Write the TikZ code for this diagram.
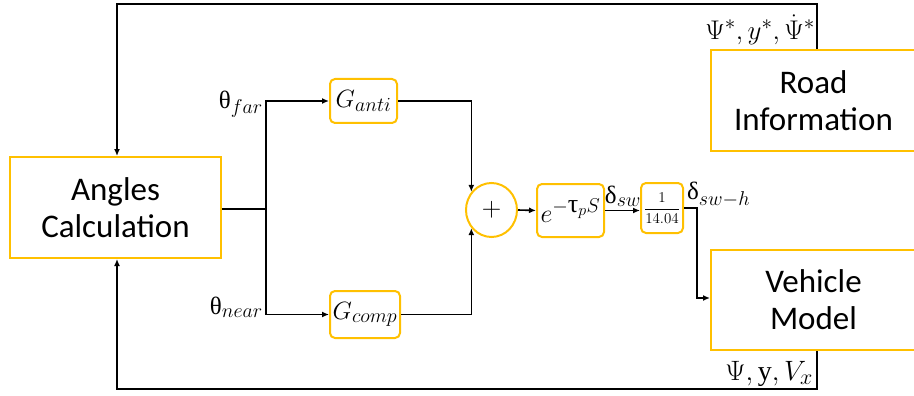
\RequirePackage{fix-cm}
\documentclass[tikz,border=0pt]{standalone}
\usepackage{fontspec}
\setmainfont{Carlito}
\newfontfamily\gr{Liberation Serif}
\DeclareMathSizes{25}{25}{20}{16}
\DeclareMathSizes{26}{26}{20}{16}
\DeclareMathSizes{27}{27}{21}{16}
\DeclareMathSizes{28}{28}{22}{17}
\usetikzlibrary{arrows.meta,shapes.geometric}
\definecolor{ybox}{HTML}{FFC000}
\tikzset{
  bigbox/.style={draw=ybox,line width=2pt,align=center,font=\fontsize{33}{37}\selectfont,inner sep=0pt},
  smallbox/.style={draw=ybox,line width=2pt,rounded corners=5pt,inner sep=0pt,font=\fontsize{25}{28}\selectfont},
  wire/.style={line width=1.6pt},
  arr/.style={wire,-{Latex[length=7pt,width=6pt]}},
  lab/.style={font=\fontsize{25}{28}\selectfont,inner sep=0pt}
}
\begin{document}
\begin{tikzpicture}[x=1pt,y=-1pt]
\useasboundingbox (0,0) rectangle (914,396);
\node[bigbox,minimum width=211pt,minimum height=101pt] (Angles) at (115.5,207.5) {Angles\\Calculation};
\node[bigbox,minimum width=205pt,minimum height=101pt] (Road) at (813.5,100.5) {Road\\Information};
\node[bigbox,minimum width=205pt,minimum height=100pt] (Vehicle) at (813.5,300) {Vehicle\\Model};
\node[smallbox,minimum width=67pt,minimum height=44pt] (Ganti) at (363.5,101) {$G_{anti}$};
\node[smallbox,minimum width=70pt,minimum height=47pt] (Gcomp) at (365,314.5) {$G_{comp}$};
\node[ellipse,draw=ybox,line width=2pt,minimum width=51pt,minimum height=54pt,inner sep=0pt,font=\fontsize{27}{30}\selectfont] (sum) at (491.5,210) {$\mathbf{+}$};
\node[smallbox,minimum width=67pt,minimum height=53pt,font=\fontsize{26}{30}\selectfont] (exp) at (570.5,210.5) {$e^{-\mbox{\gr τ}_p S}$};
\node[smallbox,minimum width=42pt,minimum height=50pt,font=\fontsize{15}{18}\selectfont] (frac) at (662,208) {$\displaystyle\frac{1}{14.04}$};

\coordinate (t1) at (817,4);
\coordinate (t2) at (117,4);
\draw[arr] (Road.north -| t1) -- (t1) -- (t2) -- (Angles.north -| t2);
\coordinate (b1) at (817,389);
\coordinate (b2) at (117,389);
\draw[arr] (Vehicle.south -| b1) -- (b1) -- (b2) -- (Angles.south -| b2);

\coordinate (j) at (266,209);
\draw[wire] (Angles.east |- j) -- (j);
\draw[arr] (j) |- (Ganti.west);
\draw[arr] (j) |- (Gcomp.west);
\draw[arr] (Ganti.east) -| (sum.138);
\draw[arr] (Gcomp.east) -| (sum.222);
\draw[arr] (sum.east) -- (exp.west);
\draw[arr] (exp.east) -- (exp.east -| frac.west);
\coordinate (d) at (697,298);
\draw[arr] (frac.east) -| (d) -- (Vehicle.west |- d);

\node[lab,anchor=south east] (lfar) at (263,118) {$\mbox{\gr θ}_{far}$};
\node[lab,anchor=south east] (lnear) at (263,318) {$\mbox{\gr θ}_{near}$};
\node[lab,anchor=south] (lsw) at (623,207) {$\mbox{\gr δ}_{sw}$};
\node[lab,anchor=south west] (lswh) at (687,207) {$\mbox{\gr δ}_{sw-h}$};
\node[lab,anchor=south east,font=\fontsize{27}{30}\selectfont] (lref) at (815,45) {$\Psi^*,y^*,\dot{\Psi}^*$};
\node[lab,anchor=south east,font=\fontsize{28}{32}\selectfont] (lout) at (813,387) {$\Psi,\mbox{\gr y},V_x$};
\end{tikzpicture}
\end{document}
